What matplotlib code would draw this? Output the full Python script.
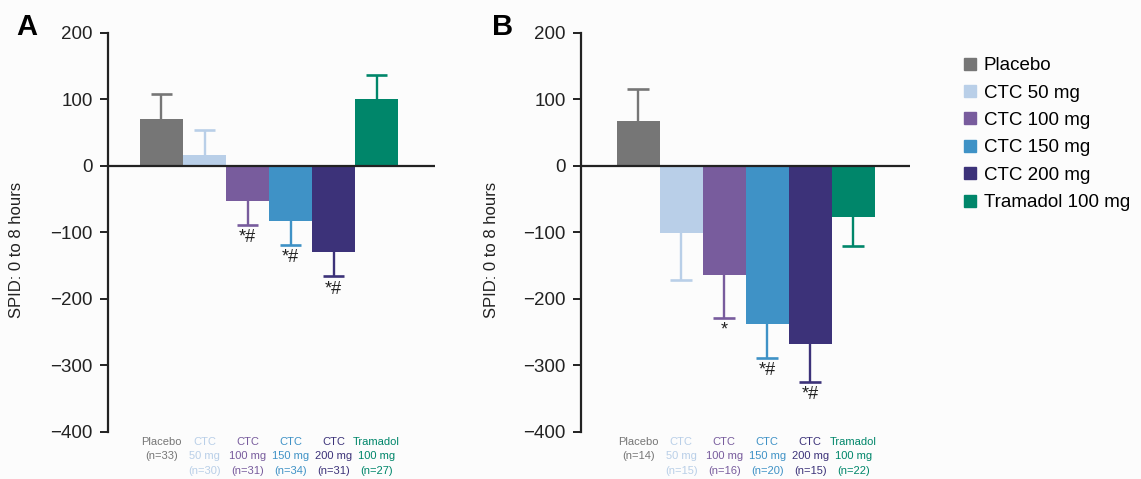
import numpy as np
import matplotlib
matplotlib.use("Agg")
import matplotlib.pyplot as plt
from matplotlib.lines import Line2D
import matplotlib.transforms as mtransforms

plt.rcParams['font.family'] = ['Liberation Sans', 'DejaVu Sans']

# groups and colours
grupos = ['Placebo', 'CTC 50 mg', 'CTC 100 mg', 'CTC 150 mg', 'CTC 200 mg', 'Tramadol 100 mg']
cores = ['#767676', '#b9cfe8', '#785c9d', '#3f92c6', '#3c3279', '#00866a']

# panel A (SPID 0-8 h) - mean and one-sided error
mediaA = [71, 16, -52, -83, -129, 100]
erroA = [38, 38, 36, 36, 37, 37]
nA = [33, 30, 31, 34, 31, 27]
sigA = ['', '', '*#', '*#', '*#', '']

# panel B
mediaB = [67, -101, -164, -237, -267, -77]
erroB = [49, 71, 64, 51, 58, 43]
nB = [14, 15, 16, 20, 15, 22]
sigB = ['', '', '*', '*#', '*#', '']

rotulos = ['Placebo', 'CTC\n50 mg', 'CTC\n100 mg', 'CTC\n150 mg', 'CTC\n200 mg', 'Tramadol\n100 mg']

W, H = 1141, 479
fig = plt.figure(figsize=(W / 100, H / 100), dpi=100)
fig.patch.set_facecolor('#fcfcfc')

def painel(rect, media, erro, nn, sig, xlim):
    ax = fig.add_axes(rect)
    ax.set_facecolor('none')
    x = np.arange(len(media))
    media = np.array(media)
    erro = np.array(erro)
    # barra de erro so para fora do zero
    ponta = media + np.sign(media) * erro
    ax.vlines(x, media, ponta, colors=cores, lw=1.7, zorder=1)
    ax.hlines(ponta, x - 0.25, x + 0.25, colors=cores, lw=1.9, zorder=1)
    for i in range(len(media)):
        if sig[i]:
            ax.annotate(sig[i], (x[i], ponta[i]), xytext=(0, -3),
                        textcoords='offset points', ha='center', va='top',
                        fontsize=13, color='#222222')
    ax.bar(x, media, width=1.0, color=cores, zorder=2)
    ax.axhline(0, color='#222222', lw=1.6, zorder=3)
    ax.set_ylim(-400, 200)
    ax.set_xlim(xlim)
    ax.set_yticks(np.arange(-400, 201, 100))
    ax.set_yticklabels(['\u2212400', '\u2212300', '\u2212200', '\u2212100', '0', '100', '200'])
    ax.tick_params(axis='y', direction='out', length=6, width=1.4, labelsize=13.5,
                   colors='#222222', pad=5)
    ax.set_xticks([])
    for s in ['top', 'right', 'bottom']:
        ax.spines[s].set_visible(False)
    ax.spines['left'].set_linewidth(1.6)
    ax.spines['left'].set_color('#222222')
    trans = mtransforms.blended_transform_factory(ax.transData, ax.transAxes)
    for i in range(len(media)):
        txt = rotulos[i] + '\n(n=%d)' % nn[i]
        ax.text(x[i], -0.012, txt, transform=trans, ha='center', va='top',
                fontsize=8.0, color=cores[i], linespacing=1.55)
    return ax

axA = painel([108 / W, 1 - 432 / H, 327 / W, 399 / H], mediaA, erroA, nA, sigA, (-1.244, 6.36))
axB = painel([581 / W, 1 - 432 / H, 329 / W, 399 / H], mediaB, erroB, nB, sigB, (-1.33, 6.32))

fig.text(17 / W, 1 - 250 / H, 'SPID: 0 to 8 hours', rotation=90, ha='center', va='center', fontsize=12, color='#222222')
fig.text(492 / W, 1 - 250 / H, 'SPID: 0 to 8 hours', rotation=90, ha='center', va='center', fontsize=12, color='#222222')
fig.text(27 / W, 1 - 27 / H, 'A', ha='center', va='center', fontsize=21, fontweight='bold')
fig.text(503 / W, 1 - 27 / H, 'B', ha='center', va='center', fontsize=21, fontweight='bold')

handles = [Line2D([], [], marker='s', ls='none', markersize=8, color=c) for c in cores]
fig.legend(handles, grupos, loc='upper left', bbox_to_anchor=(962 / W, 1 - 57 / H),
           frameon=False, fontsize=13.5, handlelength=0.8, handletextpad=0.35,
           labelspacing=0.55, borderaxespad=0, borderpad=0)

fig.savefig('out.png', dpi=100, facecolor=fig.get_facecolor())
